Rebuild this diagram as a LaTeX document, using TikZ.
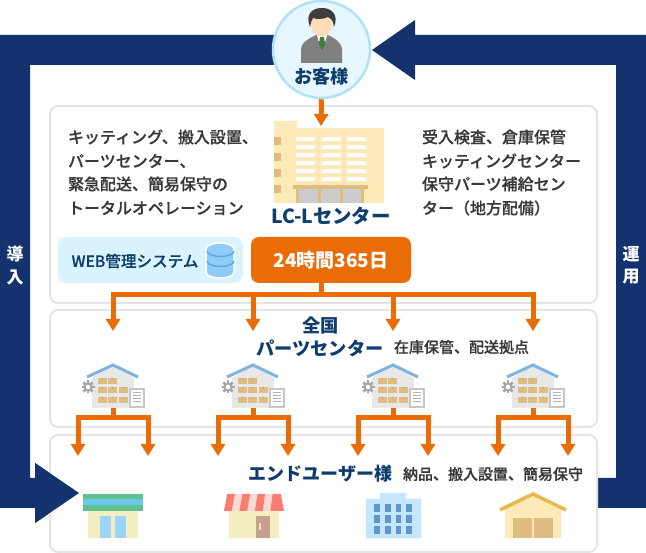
\documentclass[tikz,border=0pt]{standalone}
\usepackage{fontspec}
\setmainfont{Noto Sans CJK JP}
\newfontfamily\medfont[FakeBold=0.3]{Noto Sans CJK JP Medium}
\usetikzlibrary{arrows.meta}
\definecolor{navy}{HTML}{14336E}
\definecolor{inkblue}{HTML}{0F3D6E}
\definecolor{ink}{HTML}{383838}
\definecolor{orng}{HTML}{E96C06}
\definecolor{panelline}{HTML}{E4E4E4}
\definecolor{tan}{HTML}{DFBD80}
\definecolor{cream}{HTML}{FDEAB8}
\definecolor{shopwall}{HTML}{F3EDC0}
\definecolor{roofblue}{HTML}{7FB4E0}
\definecolor{ringblue}{HTML}{AEE3F7}
\definecolor{ringfill}{HTML}{E6F7FF}
\definecolor{skin}{HTML}{FFDDB8}
\definecolor{tiegreen}{HTML}{3F7D3F}
\definecolor{webfill}{HTML}{D9F3FF}
\definecolor{dbfill}{HTML}{8FCDF8}
\definecolor{dbband}{HTML}{5EA9E3}
\definecolor{shopgreen}{HTML}{62BF8E}
\definecolor{shopblue}{HTML}{6DC8F0}
\definecolor{doorblue}{HTML}{9BD4FB}
\definecolor{awnlight}{HTML}{FFD9D3}
\definecolor{awnred}{HTML}{FB7D72}
\definecolor{doorbrown}{HTML}{C4A08F}
\definecolor{handle}{HTML}{F3E2B0}
\definecolor{bldgblue}{HTML}{C4E6FF}
\definecolor{winblue}{HTML}{6096CC}
\definecolor{roofgold}{HTML}{E8B84F}
\definecolor{boxtick}{HTML}{B8924F}
\tikzset{
  panel/.style={draw=panelline,line width=2pt,fill=white,rounded corners=8pt},
  txt/.style={inner sep=0pt,outer sep=0pt,anchor=west,text=ink,font=\fontsize{16}{16}\selectfont\medfont},
  note/.style={txt,font=\fontsize{15}{15}\selectfont\medfont},
  head/.style={inner sep=0pt,outer sep=0pt,text=inkblue,font=\fontsize{18.2}{18}\selectfont\bfseries},
  side/.style={inner sep=0pt,outer sep=0pt,text=white,font=\fontsize{17}{17}\selectfont\bfseries},
  feed/.style={draw=orng,line width=5pt,-{Triangle[width=14pt,length=12pt]}},
  stem/.style={draw=orng,line width=5pt},
  pics/depot/.style={code={
    \fill[black!9] (-21,23) -- (-21,-7) -- (0,-20) -- (21,-7) -- (21,23) -- cycle;
    \draw[draw=roofblue,line width=3pt] (-26,-8) -- (0,-20) -- (25,-8);
    \foreach \bx/\by in {-15/-7,-5/-7,-15/2,-5/2,6/2,-15/12,-5/12,6/12}{
      \fill[tan] (\bx,\by) rectangle ++(9,6.5);
      \fill[boxtick] (\bx+4,\by) rectangle ++(1,1.5);
    }
    \fill[black!35] (-25,2) circle (4.5);
    \foreach \ang in {0,45,...,315}
      \draw[black!35,line width=2.5pt] (-25,2) -- ++(\ang:6.5);
    \fill[white] (-25,2) circle (2.3);
    \draw[black!22,fill=white,line width=2pt] (17,4) rectangle (31,22);
    \foreach \ly in {8,11,14,17}
      \draw[black!30,line width=1pt] (20,\ly) -- (28,\ly);
    \coordinate (-in) at (0,-54);
    \coordinate (-out) at (0,23);
    \coordinate (-bus) at (0,33);
    \coordinate (-l) at (-35,71);
    \coordinate (-r) at (35,71);
  }}
}
\begin{document}
\begin{tikzpicture}[x=1pt,y=-1pt]
\useasboundingbox (0,0) rectangle (646,553);
% navy loop
\fill[navy] (280,35) -- (0,35) -- (0,508) -- (35,508) -- (35,523) -- (79,493) -- (35,463) -- (35,478) -- (30,478) -- (30,65) -- (280,65) -- cycle;
\fill[navy] (372,50) -- (415,20) -- (415,35) -- (646,35) -- (646,508) -- (590,508) -- (590,478) -- (616,478) -- (616,65) -- (415,65) -- (415,80) -- cycle;
% panels
\draw[panel] (50,106) rectangle (597,303);
\draw[panel] (50,310) rectangle (597,427);
\draw[panel] (50,435) rectangle (597,552);
\fill[navy] (35,478) -- (35,463) -- (79,493) -- (35,523) -- (35,508) -- cycle;
% customer
\node[circle,draw=ringblue,fill=ringfill,line width=2.5pt,minimum size=97pt,inner sep=0pt] (customer) at (321.5,49.5) {};
\fill[black!50] (301,63) -- (301,50) .. controls (301,42) and (310,38) .. (316,35) -- (328,35) .. controls (334,38) and (342,42) .. (342,50) -- (342,63) -- cycle;
\fill[white] (317,35) -- (327,35) -- (325.5,41) -- (318.5,41) -- cycle;
\fill[tiegreen] (320,37) -- (324,37) -- (325,45) -- (322,50) -- (319,45) -- cycle;
\fill[skin] (321.5,23) ellipse (11 and 13.5);
\fill[black!76] (310,27) .. controls (305,14) and (312,8) .. (322,8) .. controls (332,8) and (339,15) .. (334,27) .. controls (333,20) and (331,18) .. (328,17) .. controls (322,20) and (315,19) .. (313,18) .. controls (311,20) and (311,23) .. (310,27) -- cycle;
\node[head] (custlabel) at (321.5,77) {お客様};
% center building
\coordinate (bldgtop) at (321,126);
\fill[cream] (274,121) -- (297,121) -- (297,128) -- (384,128) -- (384,203) -- (274,203) -- cycle;
\foreach \wy in {137,153,169,185}
  \fill[tan] (274,\wy) rectangle (281,\wy+8);
\foreach \wx in {296,322,347}
  \foreach \wy in {137,145,153,161,169,177}
    \fill[white] (\wx,\wy) rectangle (\wx+18.5,\wy+4);
\fill[black!20] (296,189) rectangle (364,203);
\fill[tan] (293,185) rectangle (368,189);
\foreach \cx/\cw in {296/3,318/3,340/2.5,361/3}
  \fill[tan] (\cx,189) rectangle (\cx+\cw,203);
\node[head,font=\fontsize{19.4}{19}\selectfont\bfseries] (center) at (331,216) {LC-Lセンター};
\draw[feed] (customer.south) -- (bldgtop);
% texts
\node[txt] (l1) at (68,137) {キッティング、搬入設置、};
\node[txt] (l2) at (68,161) {パーツセンター、};
\node[txt] (l3) at (68,184) {緊急配送、簡易保守の};
\node[txt] (l4) at (68,208) {トータルオペレーション};
\node[txt] (r1) at (422,137) {受入検査、倉庫保管};
\node[txt] (r2) at (422,161) {キッティングセンター};
\node[txt] (r3) at (422,184) {保守パーツ補給セン};
\node[txt] (r4) at (422,208) {ター（地方配備）};
% web box
\node[fill=webfill,rounded corners=8pt,minimum width=185pt,minimum height=46pt,inner sep=0pt] (web) at (150.5,260) {};
\node[inner sep=0pt,text=inkblue,font=\fontsize{15.6}{15}\selectfont\medfont] (weblabel) at (135,261) {WEB管理システム};
\draw[white,line width=1.5pt,fill=dbfill] (206,249) arc[start angle=180,end angle=360,x radius=14,y radius=6] -- (234,272) arc[start angle=0,end angle=180,x radius=14,y radius=6] -- cycle;
\draw[draw=dbband,line width=1.5pt] (207,251) arc[start angle=180,end angle=0,x radius=13.5,y radius=5.5];
\draw[draw=dbband,line width=1.5pt] (207,261) arc[start angle=180,end angle=0,x radius=13.5,y radius=5.5];
% 24h box
\node[fill=orng,rounded corners=8pt,minimum width=160pt,minimum height=46pt,inner sep=0pt,text=white,font=\fontsize{19}{19}\selectfont\bfseries] (hours) at (331,260) {24時間365日};
\coordinate (hoursout) at (321,283);
\coordinate (hub) at (321,295);
% depots
\pic (d1) at (113,385) {depot};
\pic (d2) at (253,385) {depot};
\pic (d3) at (393,385) {depot};
\pic (d4) at (533,385) {depot};
\draw[stem] (hoursout) -- (hub);
\foreach \d in {d1,d2,d3,d4}{
  \draw[feed] (hub) -| (\d-in);
  \draw[stem] (\d-out) -- (\d-bus);
  \draw[feed] (\d-bus) -| (\d-l);
  \draw[feed] (\d-bus) -| (\d-r);
}
% labels
\node[head] (zenkoku) at (320.5,326) {全国};
\node[head] (parts) at (320,348) {パーツセンター};
\node[note] (zaiko) at (394,347) {在庫保管、配送拠点};
\node[head,font=\fontsize{18}{18}\selectfont\bfseries] (enduser) at (320.5,474) {エンドユーザー様};
\node[note] (nohin) at (403,474) {納品、搬入設置、簡易保守};
\node[side] (d-a) at (15,254) {導};
\node[side] (d-b) at (15,277) {入};
\node[side] (u-a) at (631,254) {運};
\node[side] (u-b) at (631,277) {用};
% store 1
\fill[shopgreen] (83,494) rectangle (143,511);
\fill[shopblue] (83,499.5) rectangle (143,505.5);
\fill[shopwall] (88,511) rectangle (138,538);
\fill[doorblue] (100,516) rectangle (111,538);
\fill[doorblue] (115,516) rectangle (126,538);
% store 2
\fill[shopwall] (229,511) rectangle (279,538);
\fill[awnlight] (227.3,494) -- (280.7,494) -- (284,511) -- (224,511) -- cycle;
\foreach \xa/\xb/\xc/\xd in {227.3/234.9/231.7/224,242.5/250/247.2/239.4,257.7/265/262.8/254.8,272.7/280.7/284/270.3}
  \fill[awnred] (\xa,494) -- (\xb,494) -- (\xc,511) -- (\xd,511) -- cycle;
\fill[doorbrown] (256,516) rectangle (270,538);
\fill[handle] (258.5,523) rectangle (260.5,530);
% building
\fill[bldgblue] (366,499) -- (380,499) -- (380,493) -- (406,493) -- (406,499) -- (421,499) -- (421,538) -- (366,538) -- cycle;
\foreach \wx in {374,385,395.5,406}
  \foreach \wy in {504,515.5,526}
    \fill[winblue] (\wx,\wy) rectangle (\wx+5.6,\wy+8);
% warehouse
\fill[cream] (505,538) -- (505,507) -- (533,494) -- (561,507) -- (561,538) -- cycle;
\draw[draw=roofgold,line width=3.5pt] (500,510) -- (533,494) -- (566,510);
\fill[tan] (513,518) rectangle (532,538);
\fill[tan] (534,518) rectangle (553,538);
\end{tikzpicture}
\end{document}
